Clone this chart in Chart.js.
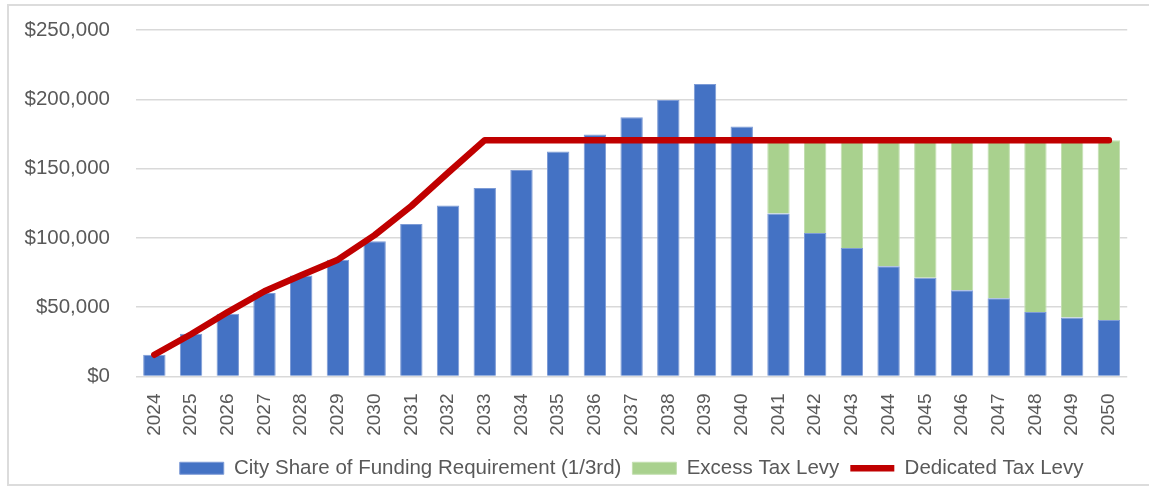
<!DOCTYPE html>
<html>
<head>
<meta charset="utf-8">
<script src="https://cdn.jsdelivr.net/npm/chart.js@4"></script>
<style>
  html, body { margin: 0; padding: 0; background: #fff; }
  #wrap { position: relative; width: 1149px; height: 489px; overflow: hidden; }
  #frame {
    position: absolute; left: 7px; top: 4px; width: 1160px; height: 482px;
    border: 2px solid #dcdcdc; box-sizing: border-box;
  }
  #chartBox { position: absolute; left: 0; top: 0; width: 1149px; height: 489px; }
</style>
</head>
<body>
<div id="wrap">
  <div id="frame"></div>
  <div id="chartBox"><canvas id="levyChart"></canvas></div>
</div>
<script>
// ===== Data =====
const years = ["2024", "2025", "2026", "2027", "2028", "2029", "2030", "2031", "2032",
  "2033", "2034", "2035", "2036", "2037", "2038", "2039", "2040", "2041", "2042",
  "2043", "2044", "2045", "2046", "2047", "2048", "2049", "2050"];

const cityShare = [15700, 30800, 45300, 60200, 72800, 84300, 97500, 110000, 123400,
  136000, 149000, 162300, 174600, 187000, 199500, 211100, 180400, 117600, 103600,
  92800, 79500, 71200, 62300, 56500, 46600, 42500, 40800];

const excessLevy = [0, 0, 0, 0, 0, 0, 0, 0, 0, 0, 0, 0, 0, 0, 0, 0, 0,
  52900, 66900, 77700, 91000, 99300, 108200, 114000, 123900, 128000, 129700];

const dedicatedLevy = [15700, 30500, 46500, 61500, 73000, 84300, 102000, 123000, 147000,
  170500, 170500, 170500, 170500, 170500, 170500, 170500, 170500, 170500, 170500,
  170500, 170500, 170500, 170500, 170500, 170500, 170500, 170500];

const yTicks = [0, 50000, 100000, 150000, 200000, 250000];

const seriesNames = ["City Share of Funding Requirement (1/3rd)", "Excess Tax Levy", "Dedicated Tax Levy"];

// ===== Chart =====
Chart.defaults.font.family = "'Liberation Sans', Arial, sans-serif";
Chart.defaults.color = "#595959";

const ctx = document.getElementById("levyChart").getContext("2d");
new Chart(ctx, {
  type: "bar",
  data: {
    labels: years,
    datasets: [
      {
        label: seriesNames[0],
        data: cityShare,
        backgroundColor: "#4472C4",
        borderColor: "#7d9bd6",
        borderWidth: 1,
        stack: "funding",
        order: 1,
        pointStyle: "rect"
      },
      {
        label: seriesNames[1],
        data: excessLevy,
        backgroundColor: "#A9D18E",
        borderColor: "#c3dfb0",
        borderWidth: 1,
        stack: "funding",
        order: 1,
        pointStyle: "rect"
      },
      {
        type: "line",
        label: seriesNames[2],
        data: dedicatedLevy,
        borderColor: "#C00000",
        backgroundColor: "#C00000",
        borderWidth: 6.5,
        borderCapStyle: "round",
        borderJoinStyle: "round",
        pointRadius: 0,
        tension: 0,
        stack: "levy",
        order: 0,
        pointStyle: "line"
      }
    ]
  },
  options: {
    responsive: true,
    maintainAspectRatio: false,
    animation: false,
    layout: { padding: { top: 30, right: 18, left: 0, bottom: 0.5 } },
    datasets: {
      bar: { categoryPercentage: 1, barPercentage: 0.61 }
    },
    plugins: {
      tooltip: { enabled: false },
      legend: {
        position: "bottom",
        fullSize: false,
        labels: {
          usePointStyle: true,
          pointStyleWidth: 44,
          boxHeight: 12,
          padding: 11,
          font: { size: 20.5 },
          color: "#595959",
          sort: (a, b) => a.datasetIndex - b.datasetIndex
        }
      }
    },
    scales: {
      x: {
        stacked: true,
        grid: { display: false, drawTicks: false },
        border: { display: false },
        ticks: {
          minRotation: 90,
          maxRotation: 90,
          autoSkip: false,
          padding: 17,
          font: { size: 19 }
        },
        afterFit: (scale) => { scale.height = 70.5; }
      },
      y: {
        stacked: true,
        min: 0,
        max: 250000,
        afterBuildTicks: (scale) => { scale.ticks = yTicks.map(v => ({ value: v })); },
        grid: { color: "#d9d9d9", lineWidth: 1.5, drawTicks: false },
        border: { display: false },
        ticks: {
          padding: 26,
          font: { size: 20.5 },
          callback: (v) => "$" + Number(v).toLocaleString("en-US")
        },
        afterFit: (scale) => {
          scale.width = 136;
          // keep the label padding from pushing the plot area down
          scale.paddingTop = 10;
          scale.paddingBottom = 10;
        }
      }
    }
  }
});
</script>
</body>
</html>
